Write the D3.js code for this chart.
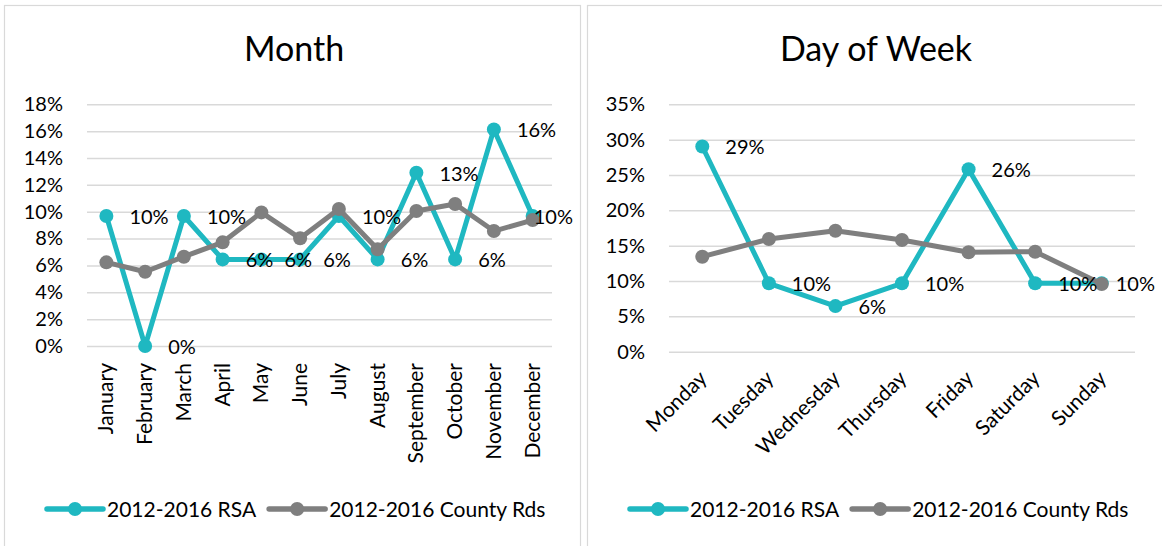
<!DOCTYPE html>
<html><head><meta charset="utf-8">
<script src="https://cdn.jsdelivr.net/npm/d3@7"></script>
<style>
html,body{margin:0;padding:0;background:#fff;}
svg{display:block;font-family:Lato, "Noto Sans", sans-serif;}
</style></head>
<body>
<svg id="c" width="1162" height="546"></svg>
<script>
const months = ["January","February","March","April","May","June","July","August","September","October","November","December"];
const monthRSA = [0.0968,0,0.0968,0.0645,0.0645,0.0645,0.0968,0.0645,0.129,0.0645,0.1613,0.0968];
const monthCounty = [0.0623,0.0553,0.0665,0.0772,0.0995,0.0802,0.102,0.072,0.1005,0.1057,0.0856,0.0938];
const monthTicks = [0,0.02,0.04,0.06,0.08,0.10,0.12,0.14,0.16,0.18];

const days = ["Monday","Tuesday","Wednesday","Thursday","Friday","Saturday","Sunday"];
const dayRSA = [0.2903,0.0968,0.0645,0.0968,0.2581,0.0968,0.0968];
const dayCounty = [0.1344,0.1594,0.1712,0.158,0.1406,0.1415,0.0958];
const dayTicks = [0,0.05,0.10,0.15,0.20,0.25,0.30,0.35];

const seriesNames = ["2012-2016 RSA","2012-2016 County Rds"];
const colors = ["#1FB8C1","#7F7F7F"];

const svg = d3.select("#c");
const fmtPct = d3.format(".0%");

function panel(o){
  const g = svg.append("g");
  g.append("rect").attr("x",o.px).attr("y",5.5).attr("width",o.pw).attr("height",600)
    .attr("fill","#fff").attr("stroke","#D9D9D9").attr("stroke-width",1.2);
  g.append("text").attr("x",o.titleX).attr("y",61).attr("text-anchor","middle")
    .attr("font-size",34).attr("fill","#000").text(o.title);

  const x = d3.scalePoint().domain(o.cats).range([o.x0,o.x1]).padding(0.5);
  const y = d3.scaleLinear().domain([0,o.max]).range([o.y0,o.y1]);

  const ya = g.append("g").attr("transform",`translate(${o.x0},0)`)
    .call(d3.axisLeft(y).tickValues(o.ticks).tickFormat(fmtPct).tickSize(-(o.x1-o.x0)).tickPadding(24));
  ya.select(".domain").remove();
  ya.selectAll("line").attr("stroke","#D9D9D9").attr("stroke-width",1.5);
  ya.selectAll("text").attr("font-size",20).attr("fill","#000").attr("font-family","Lato");

  // x labels
  const xl = g.append("g");
  o.cats.forEach(c=>{
    const t = xl.append("text").attr("font-size",21).attr("fill","#000").attr("text-anchor","end");
    if(o.rot===-90){
      t.attr("transform",`translate(${x(c)+7},${o.y0+17}) rotate(-90)`).text(c);
    } else {
      t.attr("transform",`translate(${x(c)+6},${o.y0+28}) rotate(-45)`).text(c);
    }
  });

  const line = d3.line().x((d,i)=>x(o.cats[i])).y(d=>y(d));
  [o.a,o.b].forEach((vals,k)=>{
    g.append("path").datum(vals).attr("d",line).attr("fill","none")
      .attr("stroke",colors[k]).attr("stroke-width",5).attr("stroke-linejoin","round");
    g.selectAll(null).data(vals).enter().append("circle")
      .attr("cx",(d,i)=>x(o.cats[i])).attr("cy",d=>y(d)).attr("r",7).attr("fill",colors[k]);
  });
  // labels for RSA
  o.a.forEach((v,i)=>{
    const t = g.append("text").attr("font-size",20).attr("fill","#000")
      .attr("x",x(o.cats[i])+23).attr("y",y(v)).attr("dy","0.4em").text(fmtPct(v));
    const w = t.node().getComputedTextLength();
    if(x(o.cats[i])+23+w > o.labelMax) t.attr("x",o.labelMax-w);
  });

  // legend
  const lg = g.append("g");
  let lx = o.legX;
  seriesNames.forEach((n,k)=>{
    lg.append("line").attr("x1",lx).attr("x2",lx+56).attr("y1",509).attr("y2",509)
      .attr("stroke",colors[k]).attr("stroke-width",5.5).attr("stroke-linecap","round");
    lg.append("circle").attr("cx",lx+28).attr("cy",509).attr("r",7).attr("fill",colors[k]);
    const t = lg.append("text").attr("x",lx+60).attr("y",509).attr("dy","0.36em")
      .attr("font-size",21).attr("fill","#000").text(n);
    lx = lx+60+t.node().getComputedTextLength()+13;
  });
}

panel({px:4.5,pw:576,title:"Month",titleX:294,cats:months,a:monthRSA,b:monthCounty,ticks:monthTicks,max:0.18,
  x0:87,x1:552,y0:346,y1:104.3,rot:-90,labelMax:573,legX:47});
panel({px:587.5,pw:600,title:"Day of Week",titleX:876,cats:days,a:dayRSA,b:dayCounty,ticks:dayTicks,max:0.35,
  x0:669,x1:1135,y0:351.7,y1:104.3,rot:-45,labelMax:1155,legX:630});
</script>
</body></html>
